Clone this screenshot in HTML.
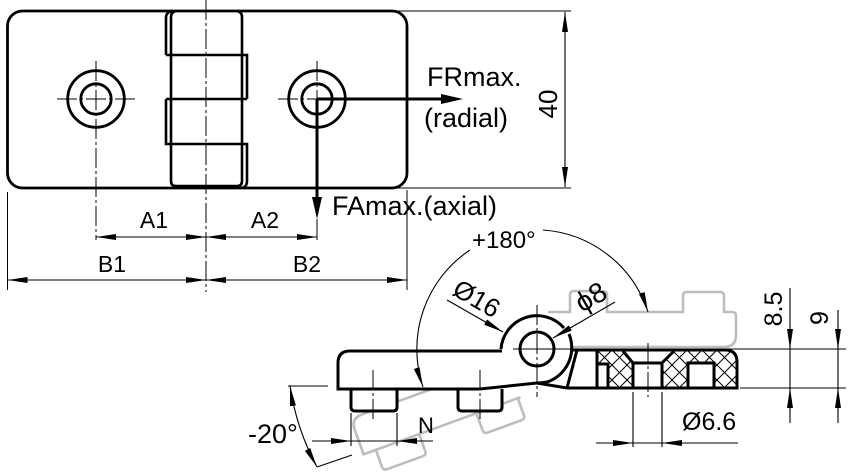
<!DOCTYPE html>
<html><head><meta charset="utf-8">
<style>
html,body{margin:0;padding:0;background:#fff;}
svg{display:block;}
text{font-family:"Liberation Sans","DejaVu Sans",sans-serif;fill:#000;}
</style></head><body>
<svg width="850" height="472" viewBox="0 0 850 472" xmlns="http://www.w3.org/2000/svg">
<defs>
<marker id="ar" viewBox="0 0 20 6" refX="20" refY="3" markerWidth="20" markerHeight="6" orient="auto-start-reverse" markerUnits="userSpaceOnUse"><path d="M0,0 L20,3 L0,6 Z" fill="#000"/></marker>
<pattern id="hatch" width="15" height="15" patternUnits="userSpaceOnUse" x="597" y="350">
<path d="M0,0 L15,15 M15,0 L0,15" stroke="#000" stroke-width="1"/>
</pattern>
</defs>

<!-- ================= TOP VIEW ================= -->
<g fill="none" stroke="#000">
  <rect x="7.5" y="11" width="399.5" height="177" rx="15" stroke-width="2.8"/>
  <path d="M176,11 Q171,12 171,17 L171,181 Q171,186 176,186 L237,186 Q242,186 242,181 L242,17 Q242,12 237,11" stroke-width="2.6"/>
  <path d="M166,55 L166,18 Q166,12 172,11" stroke-width="2.6"/>
  <path d="M166,55 L247,55 L247,99 M166,99 L247,99 M166,99 L166,144 L247,144 L247,181 Q247,188 240,188" stroke-width="2.6"/>
  <circle cx="96" cy="99" r="28.3" stroke-width="2.8"/>
  <circle cx="96" cy="99" r="15.2" stroke-width="2.8"/>
  <circle cx="317" cy="99" r="28.3" stroke-width="2.8"/>
  <circle cx="317" cy="99" r="15.2" stroke-width="2.8"/>
  <g stroke-width="1" stroke-dasharray="20 3 3 3">
    <path d="M206,0 L206,292"/>
    <path d="M96,61 L96,240"/>
    <path d="M57,99 L135,99"/>
    <path d="M278,99 L317,99"/>
    <path d="M317,61 L317,99"/>
  </g>
  <g stroke-width="1">
    <path d="M317,219 L317,240"/>
    <path d="M7.5,192 L7.5,290"/>
    <path d="M407,190 L407,290"/>
    <path d="M395,11 L571,11"/>
    <path d="M395,188 L571,188"/>
  </g>
  <g stroke-width="1.1" marker-start="url(#ar)" marker-end="url(#ar)">
    <path d="M565,12 L565,187"/>
    <path d="M96,237 L206,237"/>
    <path d="M206,237 L317,237"/>
    <path d="M7.5,280 L206,280"/>
    <path d="M206,280 L407,280"/>
  </g>
  <path d="M317,99 L445,99" stroke-width="3"/>
  <path d="M317,99 L317,200" stroke-width="3"/>
</g>
<polygon points="441,94 463,99 441,104" fill="#000"/>
<polygon points="312,197 317,219 322,197" fill="#000"/>

<text x="427" y="86" font-size="27">FRmax.</text>
<text x="424" y="127" font-size="27">(radial)</text>
<text x="332" y="215" font-size="27">FAmax.(axial)</text>
<text transform="translate(557,104) rotate(-90)" text-anchor="middle" font-size="26">40</text>
<text x="154" y="228" text-anchor="middle" font-size="23">A1</text>
<text x="265" y="228" text-anchor="middle" font-size="23">A2</text>
<text x="112" y="272" text-anchor="middle" font-size="23">B1</text>
<text x="307" y="272" text-anchor="middle" font-size="23">B2</text>

<!-- ================= SIDE VIEW ================= -->
<g transform="rotate(-20 536 349)" stroke="#bdbdbd" stroke-width="2.6" fill="none">
  <path d="M505,351 L350,351 Q338,351 338,363 L338,389 L505,389"/>
  <path d="M351,389 L351,407 Q351,411 355,411 L393,411 Q397,411 397,407 L397,389"/>
  <path d="M458,389 L458,407 Q458,411 462,411 L498,411 Q502,411 502,407 L502,389"/>
</g>
<path d="M573,347 L724,347 Q736,347 736,335 L736,316 Q736,312 732,312 L724,312 L724,296 Q724,292 720,292 L687,292 Q683,292 683,296 L683,312 L607,312 L607,295 Q607,291 603,291 L574,291 Q570,291 570,295 L570,312 L548,312" stroke="#bdbdbd" stroke-width="2.6" fill="none"/>

<path d="M338,389 L338,363 Q338,351 350,351 L505,351 L505,389 Z" fill="#fff"/>
<path d="M351,389 L351,407 Q351,411 355,411 L393,411 Q397,411 397,407 L397,389 Z" fill="#fff"/>
<path d="M458,389 L458,407 Q458,411 462,411 L498,411 Q502,411 502,407 L502,389 Z" fill="#fff"/>
<circle cx="537" cy="349" r="36" fill="#fff"/>
<path d="M500,351 L505,389 L537,383 L567,388 L577,350 Z" fill="#fff"/>

<g fill="none" stroke="#000" stroke-width="3">
  <path d="M502,351 L350,351 Q338,351 338,363 L338,389 L480,389 L537,383 L567,388"/>
  <path d="M351,389 L351,407 Q351,411 355,411 L393,411 Q397,411 397,407 L397,389"/>
  <path d="M458,389 L458,407 Q458,411 462,411 L498,411 Q502,411 502,407 L502,389"/>
  <path d="M501,349 A36,36 0 0 1 564,328"/>
  <path d="M569,334 A36,36 0 0 1 547,382 Q542,383 537,383"/>
  <path d="M577,350 L567,388"/>
  <circle cx="537" cy="349" r="17"/>
</g>

<path d="M597,350 L725,350 Q737,350 737,362 L737,388 L597,388 Z" fill="url(#hatch)"/>
<path d="M597,364 L608,364 L608,388 L597,388 Z" fill="#fff"/>
<path d="M623,350 L674,350 L662,363 L662,388 L633,388 L633,363 Z" fill="#fff"/>
<rect x="688" y="363" width="26" height="25" fill="#fff"/>
<g fill="none" stroke="#000" stroke-width="3">
  <path d="M573,350 L725,350 Q737,350 737,362 L737,388 L567,388"/>
  <path d="M597,350 L597,388"/>
  <path d="M597,364 L608,364 L608,388"/>
  <path d="M623,351 L633,363 L633,388 M674,351 L662,363 L662,388 M633,363 L662,363"/>
  <path d="M688,388 L688,363 L714,363 L714,388"/>
</g>

<g fill="none" stroke="#000" stroke-width="1" stroke-dasharray="20 3 3 3">
  <path d="M537,305 L537,397"/>
  <path d="M373,370 L373,422"/>
  <path d="M480,370 L480,422"/>
  <path d="M648,343 L648,397"/>
</g>
<path d="M513,349 L590,349" stroke="#000" stroke-width="1"/>

<g fill="none" stroke="#000" stroke-width="1.1">
  <path d="M470,250 A119,119 0 0 0 423,387" marker-end="url(#ar)"/>
  <path d="M543,230 A119,119 0 0 1 648,312" marker-end="url(#ar)"/>
  <path d="M290,386 A248,248 0 0 0 317,467" marker-start="url(#ar)" marker-end="url(#ar)"/>
  <path d="M288,386 L328,386"/>
  <path d="M317,467 L352,455"/>
  <path d="M447,300 L503,332" marker-end="url(#ar)"/>
  <path d="M615,302 L553,338" marker-end="url(#ar)"/>
  <path d="M351,413 L351,446 M397,413 L397,446"/>
  <path d="M312,441 L433,441"/>
  <path d="M331,441 L351,441" marker-end="url(#ar)"/>
  <path d="M417,441 L397,441" marker-end="url(#ar)"/>
  <path d="M633,392 L633,447 M662,392 L662,447"/>
  <path d="M596,443 L738,443"/>
  <path d="M613,443 L633,443" marker-end="url(#ar)"/>
  <path d="M682,443 L662,443" marker-end="url(#ar)"/>
  <path d="M717,349 L846,349 M740,388 L846,388"/>
  <path d="M790,288 L790,423"/>
  <path d="M790,325 L790,349" marker-end="url(#ar)"/>
  <path d="M790,412 L790,388" marker-end="url(#ar)"/>
  <path d="M838,310 L838,423"/>
  <path d="M838,325 L838,349" marker-end="url(#ar)"/>
  <path d="M838,412 L838,388" marker-end="url(#ar)"/>
</g>

<text x="472" y="248" font-size="24">+180°</text>
<text transform="translate(451,294) rotate(30)" font-size="26">Ø16</text>
<text transform="translate(582,313) rotate(-30)" font-size="28">ϕ8</text>
<text x="418" y="433" font-size="22">N</text>
<text x="248" y="443" font-size="27">-20°</text>
<text x="682" y="430" font-size="25">Ø6.6</text>
<text transform="translate(782,309) rotate(-90)" text-anchor="middle" font-size="25">8.5</text>
<text transform="translate(828,318) rotate(-90)" text-anchor="middle" font-size="25">9</text>
</svg>
</body></html>
